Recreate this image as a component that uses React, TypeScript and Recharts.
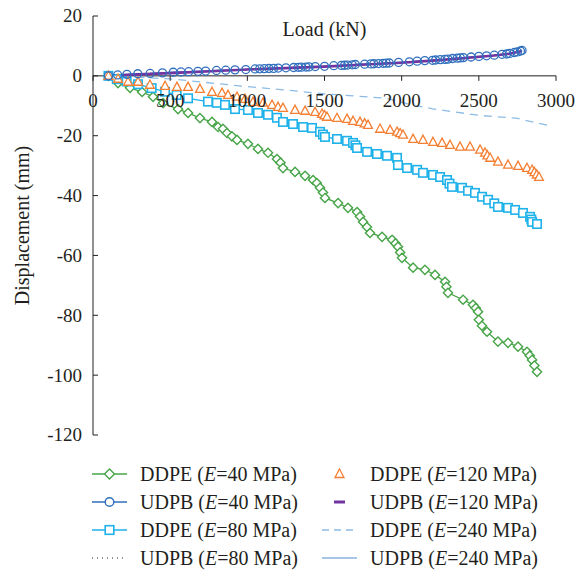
import { LineChart, Line, XAxis, YAxis, ReferenceLine, Legend } from 'recharts';

// DDPE, E = 40 MPa
const ddpe40Load = [100, 162, 240, 318, 389, 454, 551, 616, 693, 771, 810, 842, 868, 900, 933, 1004, 1069, 1134, 1192, 1215, 1231, 1309, 1374, 1426, 1450, 1471, 1490, 1503, 1588, 1652, 1711, 1730, 1750, 1775, 1795, 1873, 1938, 1960, 1976, 1990, 2002, 2074, 2151, 2216, 2281, 2290, 2300, 2398, 2462, 2480, 2495, 2500, 2520, 2553, 2624, 2689, 2754, 2812, 2830, 2845, 2860, 2877];
const ddpe40Disp = [0, -2.4, -4.0, -5.4, -7.0, -9.1, -11.1, -12.4, -14.1, -15.4, -17.1, -17.7, -19.1, -20.2, -21.4, -22.7, -24.4, -25.7, -27.8, -29.0, -30.8, -32.1, -33.4, -34.8, -35.8, -37.4, -39.0, -40.8, -42.5, -44.1, -45.5, -47.0, -48.8, -50.5, -52.5, -53.8, -54.8, -56.0, -57.1, -59.0, -60.8, -64.1, -64.8, -66.5, -68.8, -70.5, -72.5, -74.8, -76.5, -77.6, -78.8, -81.5, -83.5, -85.5, -88.8, -89.2, -90.5, -92.2, -93.5, -94.9, -96.8, -98.9];

// UDPB, E = 40 MPa
const udpb40Load = [100, 160, 220, 290, 370, 450, 520, 570, 620, 680, 730, 800, 860, 920, 990, 1050, 1080, 1110, 1140, 1170, 1200, 1250, 1300, 1330, 1350, 1380, 1400, 1440, 1500, 1560, 1610, 1630, 1650, 1680, 1700, 1760, 1800, 1820, 1850, 1880, 1900, 1920, 1980, 2050, 2100, 2150, 2200, 2220, 2250, 2280, 2300, 2330, 2360, 2380, 2400, 2450, 2500, 2550, 2600, 2650, 2680, 2700, 2730, 2750, 2770, 2780];
const udpb40Disp = [0, 0.3, 0.5, 0.7, 0.8, 1.0, 1.2, 1.3, 1.4, 1.5, 1.6, 1.8, 1.9, 2.0, 2.1, 2.3, 2.35, 2.4, 2.45, 2.5, 2.6, 2.7, 2.8, 2.85, 2.9, 2.95, 3.0, 3.1, 3.2, 3.4, 3.5, 3.55, 3.6, 3.7, 3.8, 3.9, 4.0, 4.05, 4.1, 4.2, 4.25, 4.3, 4.5, 4.7, 4.9, 5.1, 5.2, 5.3, 5.4, 5.5, 5.6, 5.8, 5.9, 6.0, 6.1, 6.3, 6.5, 6.7, 6.9, 7.2, 7.3, 7.5, 7.8, 8.0, 8.3, 8.5];

// DDPE, E = 80 MPa
const ddpe80Load = [100, 154, 218, 292, 380, 467, 542, 616, 745, 802, 855, 920, 1004, 1069, 1134, 1192, 1231, 1296, 1361, 1419, 1471, 1490, 1503, 1581, 1646, 1685, 1700, 1711, 1776, 1840, 1905, 1970, 1976, 2035, 2100, 2138, 2203, 2249, 2294, 2310, 2326, 2391, 2430, 2475, 2521, 2560, 2600, 2624, 2689, 2735, 2786, 2832, 2840, 2845, 2877];
const ddpe80Disp = [0, -1.1, -1.9, -2.8, -4.1, -5.3, -6.4, -7.5, -8.6, -9.0, -9.7, -11.1, -11.4, -12.4, -13.0, -14.0, -15.4, -16.1, -17.1, -17.4, -18.7, -19.6, -20.4, -21.1, -21.7, -22.4, -23.2, -24.1, -25.4, -26.1, -26.7, -27.4, -29.8, -30.8, -31.4, -32.4, -33.1, -33.8, -34.8, -36.0, -37.1, -37.4, -38.4, -39.1, -40.4, -41.4, -42.6, -43.8, -44.1, -44.8, -45.8, -47.1, -48.0, -48.8, -49.5];

// UDPB, E = 80 MPa
const udpb80Load = [100, 500, 1000, 1500, 2000, 2300, 2500, 2700, 2780];
const udpb80Disp = [0, 0.9, 2.1, 3.2, 4.4, 5.6, 6.4, 7.4, 8.4];

// DDPE, E = 120 MPa
const ddpe120Load = [100, 162, 227, 292, 369, 467, 544, 616, 693, 771, 836, 875, 933, 985, 1037, 1102, 1160, 1199, 1231, 1309, 1374, 1439, 1484, 1500, 1516, 1581, 1646, 1685, 1730, 1760, 1782, 1860, 1925, 1970, 1990, 2009, 2074, 2138, 2203, 2262, 2313, 2378, 2443, 2508, 2540, 2555, 2573, 2624, 2689, 2754, 2812, 2845, 2860, 2875, 2890];
const ddpe120Disp = [0, -1.0, -2.0, -2.0, -3.0, -3.4, -3.7, -3.7, -4.4, -5.4, -5.7, -6.4, -7.0, -7.7, -8.7, -9.0, -9.7, -10.4, -10.7, -11.4, -11.7, -12.1, -12.7, -13.2, -13.7, -14.1, -14.4, -15.1, -15.4, -15.9, -16.4, -17.7, -18.1, -18.7, -19.2, -19.7, -21.1, -21.4, -22.1, -22.4, -23.1, -23.7, -23.7, -24.7, -25.7, -26.6, -27.4, -28.7, -29.7, -30.1, -30.8, -31.4, -32.2, -33.0, -33.8];

// UDPB, E = 120 MPa
const udpb120Load = [100, 300, 500, 800, 1000, 1200, 1500, 1800, 2000, 2200, 2400, 2600, 2700, 2780];
const udpb120Disp = [0, 0.5, 0.9, 1.6, 2.1, 2.5, 3.1, 3.9, 4.4, 5.1, 5.9, 6.8, 7.4, 8.3];

// DDPE, E = 240 MPa
const ddpe240Load = [100, 500, 1000, 1200, 1500, 1900, 2050, 2200, 2500, 2750, 2880, 2975];
const ddpe240Disp = [0, -1.0, -3.6, -4.5, -6.0, -7.5, -9.5, -11.0, -13.2, -14.2, -15.8, -16.8];

// UDPB, E = 240 MPa
const udpb240Load = [100, 500, 1000, 1500, 2000, 2400, 2600, 2780];
const udpb240Disp = [0, 0.9, 2.2, 3.2, 4.5, 6.0, 6.8, 8.3];

const xTicks = [0, 500, 1000, 1500, 2000, 2500, 3000];
const yTicks = [20, 0, -20, -40, -60, -80, -100, -120];

const legendNames = ['DDPE', 'UDPB', 'DDPE', 'UDPB', 'DDPE', 'UDPB', 'DDPE', 'UDPB'];
const legendModulus = [40, 40, 80, 80, 120, 120, 240, 240];

const FONT = '"Liberation Serif", "Times New Roman", serif';
const INK = '#231f20';

const W = 587;
const H = 572;
const margin = { top: 15, right: 31, bottom: 137, left: 33 };
const plotTop = margin.top + 1;
const plotH = H - margin.bottom - plotTop;
const zeroY = plotTop + (plotH * 20) / 140;

const pts = (xs: number[], ys: number[]) => xs.map((x, i) => ({ load: x, disp: ys[i] }));

const C = {
  green: '#46a447',
  blue: '#2f6fbd',
  cyan: '#1fb2ea',
  orange: '#f47f32',
  purple: '#7234a0',
  dash: '#8cbbe5',
  light: '#8ab2df',
};

const diamond = (p: any) => {
  if (p.cx == null || p.cy == null) return <g key={p.index} />;
  const s = 4.6;
  return (
    <path key={p.index} d={`M${p.cx},${p.cy - s}L${p.cx + s},${p.cy}L${p.cx},${p.cy + s}L${p.cx - s},${p.cy}Z`}
      fill="#fff" stroke={C.green} strokeWidth={1.4} />
  );
};
const circle = (p: any) => {
  if (p.cx == null || p.cy == null) return <g key={p.index} />;
  return <circle key={p.index} cx={p.cx} cy={p.cy} r={4} fill="none" stroke={C.blue} strokeWidth={1.3} />;
};
const square = (p: any) => {
  if (p.cx == null || p.cy == null) return <g key={p.index} />;
  return <rect key={p.index} x={p.cx - 4.2} y={p.cy - 4.2} width={8.4} height={8.4} fill="#fff" stroke={C.cyan} strokeWidth={1.6} />;
};
const triangle = (p: any) => {
  if (p.cx == null || p.cy == null) return <g key={p.index} />;
  return (
    <path key={p.index} d={`M${p.cx},${p.cy - 4.8}L${p.cx + 4.4},${p.cy + 3.4}L${p.cx - 4.4},${p.cy + 3.4}Z`}
      fill="#fff" stroke={C.orange} strokeWidth={1.3} />
  );
};

const XTick = (props: any) => {
  const { x, payload } = props;
  return (
    <g>
      <line x1={x} x2={x} y1={zeroY} y2={zeroY + 5} stroke={INK} strokeWidth={1} />
      <text x={x} y={zeroY + 31} textAnchor="middle" fontFamily={FONT} fontSize={19} fill={INK}>
        {payload.value}
      </text>
    </g>
  );
};

const YTick = (props: any) => {
  const { y, payload } = props;
  const ax = margin.left + 60;
  return (
    <g>
      <line x1={ax} x2={ax + 5} y1={y} y2={y} stroke={INK} strokeWidth={1} />
      <text x={ax - 11} y={y} dy="0.34em" textAnchor="end" fontFamily={FONT} fontSize={19} fill={INK}>
        {payload.value}
      </text>
    </g>
  );
};

const icon = (i: number, x: number, y: number) => {
  const x1 = x, x2 = x + 35, cx = x + 17.5;
  switch (i) {
    case 0:
      return (
        <g>
          <line x1={x1} x2={x2} y1={y} y2={y} stroke={C.green} strokeWidth={1.4} />
          <path d={`M${cx},${y - 5}L${cx + 5},${y}L${cx},${y + 5}L${cx - 5},${y}Z`} fill="#fff" stroke={C.green} strokeWidth={1.4} />
        </g>
      );
    case 1:
      return (
        <g>
          <line x1={x1} x2={x2} y1={y} y2={y} stroke={C.blue} strokeWidth={1.4} />
          <circle cx={cx} cy={y} r={4.3} fill="#fff" stroke={C.blue} strokeWidth={1.4} />
        </g>
      );
    case 2:
      return (
        <g>
          <line x1={x1} x2={x2} y1={y} y2={y} stroke={C.cyan} strokeWidth={1.4} />
          <rect x={cx - 4.3} y={y - 4.3} width={8.6} height={8.6} fill="#fff" stroke={C.cyan} strokeWidth={1.6} />
        </g>
      );
    case 3:
      return <line x1={x1} x2={x2} y1={y} y2={y} stroke={INK} strokeWidth={1} strokeDasharray="1 4" />;
    case 4:
      return <path d={`M${cx},${y - 5}L${cx + 4.5},${y + 3.5}L${cx - 4.5},${y + 3.5}Z`} fill="#fff" stroke={C.orange} strokeWidth={1.3} />;
    case 5:
      return <line x1={cx - 5.5} x2={cx + 5.5} y1={y} y2={y} stroke={C.purple} strokeWidth={3} />;
    case 6:
      return <line x1={x1} x2={x2} y1={y} y2={y} stroke={C.dash} strokeWidth={1.4} strokeDasharray="7 5" />;
    default:
      return <line x1={x1} x2={x2} y1={y} y2={y} stroke={C.light} strokeWidth={1.4} />;
  }
};

const LegendBox = () => (
  <svg width={W} height={117} style={{ display: 'block' }}>
    {legendNames.map((name, i) => {
      const col = i < 4 ? 0 : 1;
      const row = i % 4;
      const x = col === 0 ? 92 : 322;
      const y = 19 + row * 28;
      return (
        <g key={i}>
          {icon(i, x, y)}
          <text x={x + 48} y={y + 6.5} fontFamily={FONT} fontSize={20} fill={INK}>
            <tspan>{name} (</tspan>
            <tspan fontStyle="italic">E</tspan>
            <tspan>={legendModulus[i]} MPa)</tspan>
          </text>
        </g>
      );
    })}
  </svg>
);

export default function App() {
  return (
    <div style={{ position: 'absolute', left: 0, top: 0, width: W, height: H, background: '#fff' }}>
      <LineChart width={W} height={H} margin={margin}>
        <XAxis
          type="number"
          dataKey="load"
          orientation="top"
          height={1}
          domain={[0, 3000]}
          ticks={xTicks}
          interval={0}
          axisLine={false}
          tickLine={false}
          tick={<XTick />}
          allowDataOverflow
        />
        <YAxis
          type="number"
          dataKey="disp"
          width={60}
          domain={[-120, 20]}
          ticks={yTicks}
          interval={0}
          tickLine={false}
          axisLine={{ stroke: INK, strokeWidth: 1 }}
          tick={<YTick />}
          label={{
            value: 'Displacement (mm)',
            angle: -90,
            position: 'insideLeft',
            offset: -11,
            style: { fontFamily: FONT, fontSize: 20, fill: INK, textAnchor: 'middle' },
          }}
        />
        <ReferenceLine y={0} stroke={INK} strokeWidth={1} />
        <ReferenceLine
          y={20}
          stroke="none"
          label={{ value: 'Load (kN)', position: 'insideTop', offset: 6, style: { fontFamily: FONT, fontSize: 20, fill: INK } }}
        />
        <Legend
          layout="vertical"
          align="center"
          verticalAlign="middle"
          wrapperStyle={{ left: 0, top: 455, width: W, height: 117 }}
          content={() => <LegendBox />}
        />
        <Line data={pts(udpb240Load, udpb240Disp)} dataKey="disp" stroke={C.light} strokeWidth={1.2} dot={false} activeDot={false} isAnimationActive={false} />
        <Line data={pts(udpb80Load, udpb80Disp)} dataKey="disp" stroke={INK} strokeWidth={1} strokeDasharray="1 4" dot={false} activeDot={false} isAnimationActive={false} />
        <Line data={pts(ddpe240Load, ddpe240Disp)} dataKey="disp" stroke={C.dash} strokeWidth={1.3} strokeDasharray="8 6" dot={false} activeDot={false} isAnimationActive={false} />
        <Line data={pts(ddpe40Load, ddpe40Disp)} dataKey="disp" stroke={C.green} strokeWidth={1.3} dot={diamond} activeDot={false} isAnimationActive={false} />
        <Line data={pts(ddpe80Load, ddpe80Disp)} dataKey="disp" stroke={C.cyan} strokeWidth={1.3} dot={square} activeDot={false} isAnimationActive={false} />
        <Line data={pts(ddpe120Load, ddpe120Disp)} dataKey="disp" stroke="none" dot={triangle} activeDot={false} isAnimationActive={false} />
        <Line data={pts(udpb40Load, udpb40Disp)} dataKey="disp" stroke={C.blue} strokeWidth={1.3} dot={circle} activeDot={false} isAnimationActive={false} />
        <Line data={pts(udpb120Load, udpb120Disp)} dataKey="disp" stroke={C.purple} strokeWidth={2.6} dot={false} activeDot={false} isAnimationActive={false} />
      </LineChart>
    </div>
  );
}
